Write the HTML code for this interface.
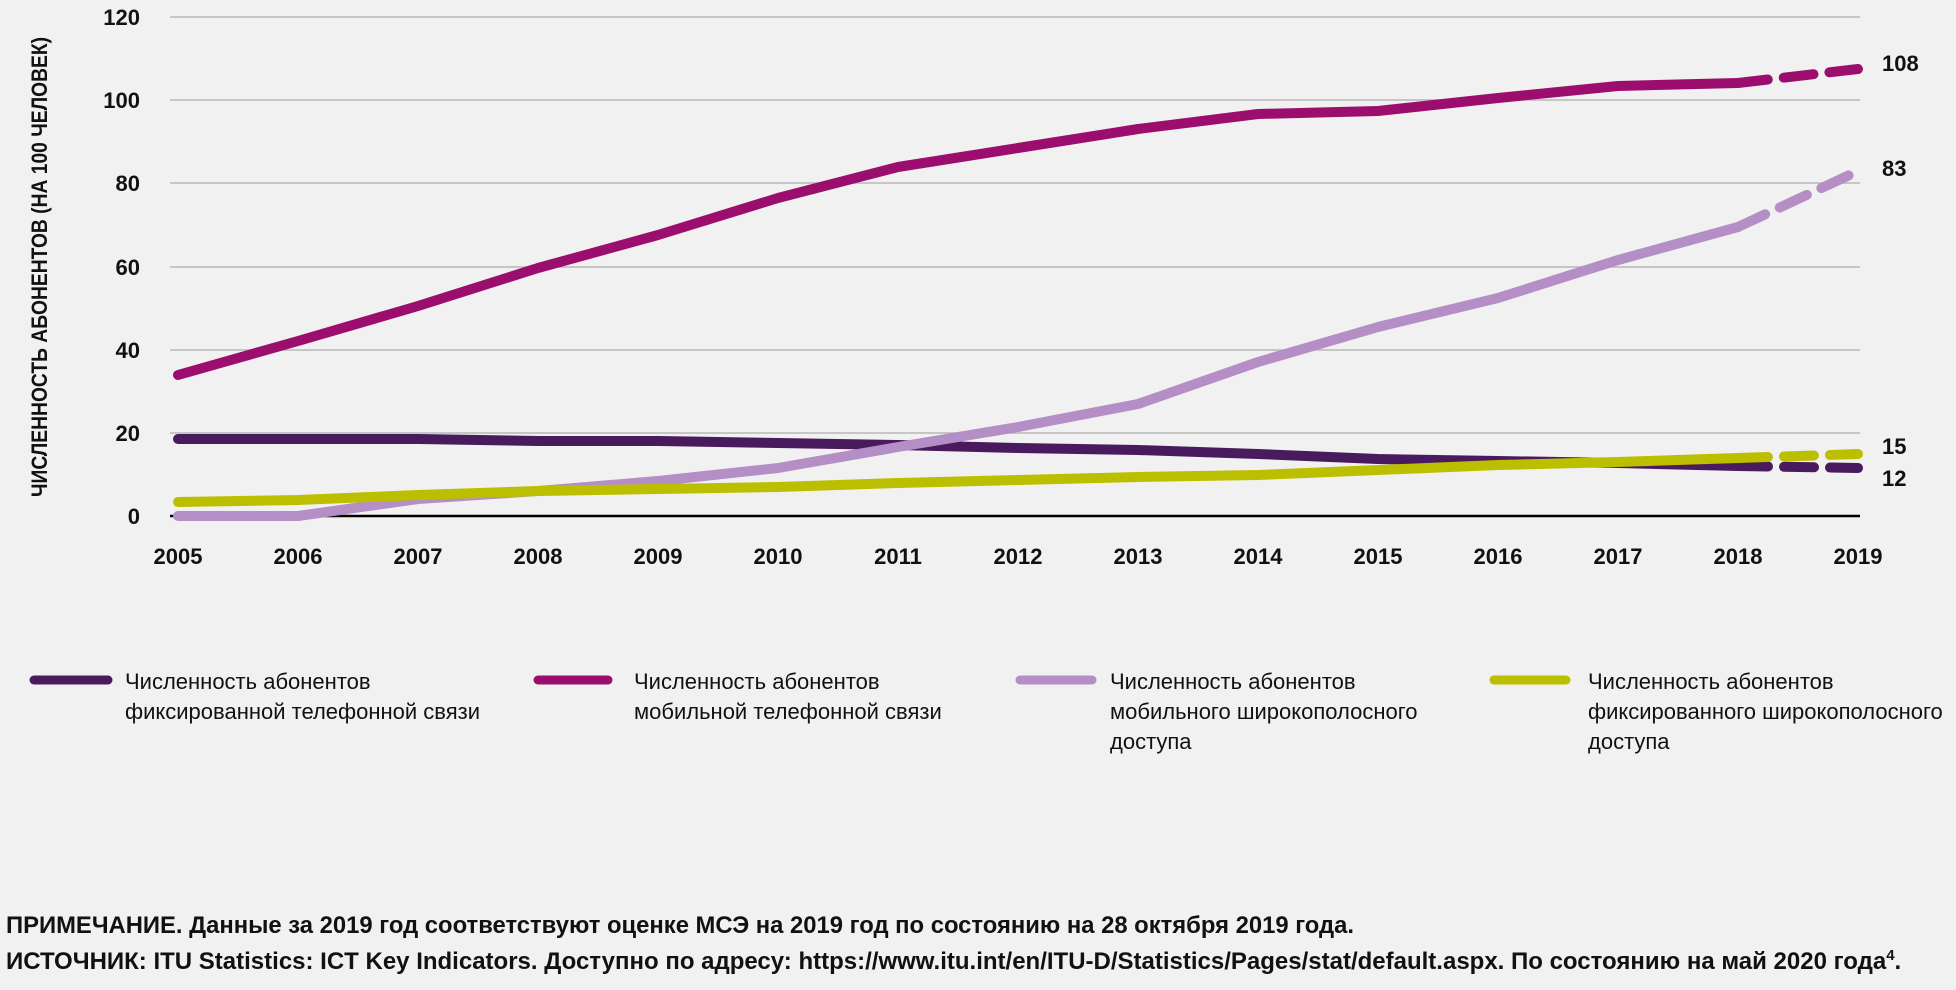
<!DOCTYPE html>
<html><head><meta charset="utf-8"><style>
html,body{margin:0;padding:0;background:#f1f1f1;}
svg{display:block;font-family:"Liberation Sans Narrow","Liberation Sans",sans-serif;}
.t{font-size:22px;font-weight:bold;fill:#111;}
.lg{font-size:22px;fill:#111;}
.n{font-size:24px;font-weight:bold;fill:#111;}
</style></head><body>
<svg width="1956" height="990" viewBox="0 0 1956 990" xmlns="http://www.w3.org/2000/svg">
<rect width="1956" height="990" fill="#f1f1f1"/>
<g stroke="#b8b8b8" stroke-width="1.5">
<line x1="170" x2="1860" y1="17" y2="17"/><line x1="170" x2="1860" y1="100" y2="100"/>
<line x1="170" x2="1860" y1="183" y2="183"/><line x1="170" x2="1860" y1="267" y2="267"/>
<line x1="170" x2="1860" y1="350" y2="350"/><line x1="170" x2="1860" y1="433" y2="433"/>
</g>
<line x1="170" x2="1860" y1="516" y2="516" stroke="#000" stroke-width="2.5"/>
<g class="t" text-anchor="end">
<text x="140" y="25">120</text><text x="140" y="108">100</text><text x="140" y="191">80</text>
<text x="140" y="275">60</text><text x="140" y="358">40</text><text x="140" y="441">20</text><text x="140" y="524">0</text>
</g>
<text class="t" transform="translate(47,267) rotate(-90)" text-anchor="middle" font-size="23" textLength="460" lengthAdjust="spacingAndGlyphs">ЧИСЛЕННОСТЬ АБОНЕНТОВ (НА 100 ЧЕЛОВЕК)</text>
<g class="t" text-anchor="middle">
<text x="178" y="564">2005</text><text x="298" y="564">2006</text><text x="418" y="564">2007</text>
<text x="538" y="564">2008</text><text x="658" y="564">2009</text><text x="778" y="564">2010</text>
<text x="898" y="564">2011</text><text x="1018" y="564">2012</text><text x="1138" y="564">2013</text>
<text x="1258" y="564">2014</text><text x="1378" y="564">2015</text><text x="1498" y="564">2016</text>
<text x="1618" y="564">2017</text><text x="1738" y="564">2018</text><text x="1858" y="564">2019</text>
</g>
<g fill="none" stroke-width="10" stroke-linecap="round" stroke-linejoin="round">
<polyline stroke="#9b0e6d" points="178,375 298,341 418,306 538,268 658,235 778,198 898,167 1018,148 1138,129 1258,114 1378,111 1498,98 1618,86 1738,83"/>
<polyline stroke="#9b0e6d" stroke-dasharray="30,16" points="1738,83 1858,69"/>
<polyline stroke="#4a1a5e" points="178,439 298,439 418,439 538,441 658,441 778,443 898,445 1018,448 1138,450 1258,454 1378,459 1498,461 1618,463 1738,466"/>
<polyline stroke="#4a1a5e" stroke-dasharray="30,16" points="1738,466 1858,468"/>
<polyline stroke="#b48ec5" points="178,516 298,516 418,499 538,491 658,481 778,468 898,447 1018,427 1138,404 1258,362 1378,327 1498,298 1618,260 1738,227"/>
<polyline stroke="#b48ec5" stroke-dasharray="30,16" points="1738,227 1858,171"/>
<polyline stroke="#bcbf00" points="178,502 298,500 418,495 538,491 658,489 778,487 898,483 1018,480 1138,477 1258,475 1378,470 1498,465 1618,462 1738,458"/>
<polyline stroke="#bcbf00" stroke-dasharray="30,16" points="1738,458 1858,454"/>
</g>
<g class="t" font-size="24">
<text x="1882" y="71">108</text><text x="1882" y="176">83</text>
<text x="1882" y="454">15</text><text x="1882" y="486">12</text>
</g>
<g stroke-width="9" stroke-linecap="round">
<line x1="34" x2="108" y1="680" y2="680" stroke="#4a1a5e"/>
<line x1="538" x2="608" y1="680" y2="680" stroke="#9b0e6d"/>
<line x1="1020" x2="1092" y1="680" y2="680" stroke="#b48ec5"/>
<line x1="1494" x2="1566" y1="680" y2="680" stroke="#bcbf00"/>
</g>
<g class="lg">
<text x="125" y="689">Численность абонентов</text><text x="125" y="719">фиксированной телефонной связи</text>
<text x="634" y="689">Численность абонентов</text><text x="634" y="719">мобильной телефонной связи</text>
<text x="1110" y="689">Численность абонентов</text><text x="1110" y="719">мобильного широкополосного</text><text x="1110" y="749">доступа</text>
<text x="1588" y="689">Численность абонентов</text><text x="1588" y="719">фиксированного широкополосного</text><text x="1588" y="749">доступа</text>
</g>
<text class="n" x="6" y="933" textLength="1348" lengthAdjust="spacingAndGlyphs">ПРИМЕЧАНИЕ. Данные за 2019 год соответствуют оценке МСЭ на 2019 год по состоянию на 28 октября 2019 года.</text>
<text class="n" x="6" y="969">ИСТОЧНИК: ITU Statistics: ICT Key Indicators. Доступно по адресу: https://www.itu.int/en/ITU-D/Statistics/Pages/stat/default.aspx. По состоянию на май 2020 года<tspan font-size="15" dy="-9">4</tspan><tspan dy="9">.</tspan></text>
</svg>
</body></html>
